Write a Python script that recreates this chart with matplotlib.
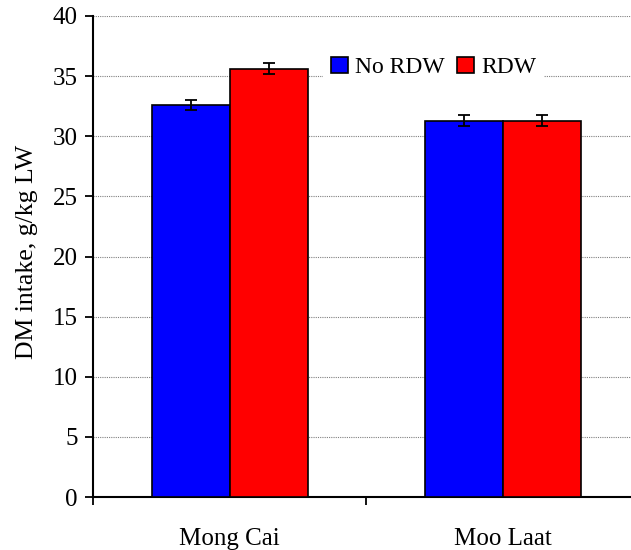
import numpy as np
import matplotlib
matplotlib.use("Agg")
import matplotlib.pyplot as plt
from matplotlib.ticker import FixedLocator, NullFormatter

plt.rcParams['font.family'] = ['Liberation Serif', 'DejaVu Serif']

# DM intake by breed and diet
breeds = ['Mong Cai', 'Moo Laat']
no_rdw = [32.6, 31.3]
rdw = [35.6, 31.3]
no_rdw_se = [0.45, 0.45]
rdw_se = [0.45, 0.45]

fig = plt.figure(figsize=(6.31, 5.5), dpi=100)
ax = fig.add_axes([93 / 631, 1 - 497 / 550, (631 - 93) / 631, (497 - 16) / 550])

x = np.arange(len(breeds))
w = 0.285
err_kw = dict(ecolor='black', elinewidth=1.3, capsize=4.5, capthick=1.3)
ax.bar(x - w / 2, no_rdw, w, yerr=no_rdw_se, color='#0000ff', edgecolor='black',
       linewidth=1.2, label='No RDW', error_kw=err_kw, zorder=3)
ax.bar(x + w / 2, rdw, w, yerr=rdw_se, color='#ff0000', edgecolor='black',
       linewidth=1.2, label='RDW', error_kw=err_kw, zorder=3)

ax.set_xlim(-0.5, 1.468)
ax.set_ylim(0, 40)
ax.set_yticks(np.arange(0, 41, 5))
ax.yaxis.grid(True, linestyle=(0, (1, 1)), color='#808080', linewidth=0.8, zorder=0)

# category separators as major ticks, names on minor ticks
ax.xaxis.set_major_locator(FixedLocator([-0.5, 0.5, 1.5]))
ax.xaxis.set_major_formatter(NullFormatter())
ax.xaxis.set_minor_locator(FixedLocator(x))
ax.set_xticklabels(breeds, minor=True)
ax.tick_params(axis='x', which='minor', length=0, pad=22, labelsize=18)
ax.tick_params(axis='x', which='major', length=6, width=1.3, direction='out')
ax.tick_params(axis='y', length=6, width=1.3, direction='out', labelsize=18, pad=5)

for side in ['top', 'right']:
    ax.spines[side].set_visible(False)
for side in ['left', 'bottom']:
    ax.spines[side].set_linewidth(1.5)

ax.set_ylabel('DM intake, g/kg LW', fontsize=18.5, labelpad=12)
ax.yaxis.set_label_coords(-0.102, 0.51)

leg = ax.legend(loc='center', bbox_to_anchor=(0.633, 0.8925), ncol=2, fontsize=17,
                frameon=True, fancybox=False, edgecolor='none', facecolor='white',
                framealpha=1, handlelength=0.7, handleheight=0.7,
                handletextpad=0.3, columnspacing=0.55, borderpad=0.35)
for p in leg.get_patches():
    p.set_linewidth(1.2)

fig.savefig('out.png', dpi=100)
